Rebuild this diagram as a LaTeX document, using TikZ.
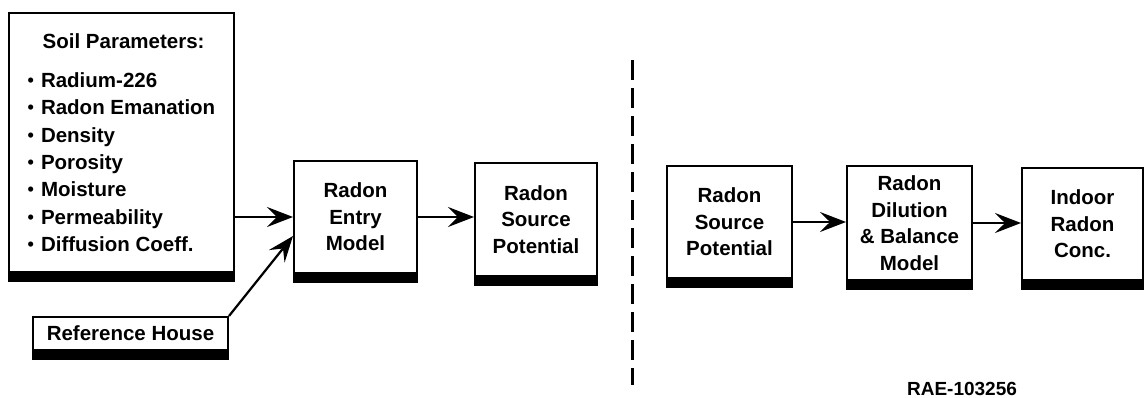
\documentclass[tikz,border=0pt]{standalone}
\usepackage{fontspec}
\setmainfont{Liberation Sans}
\usetikzlibrary{arrows.meta}
\newcommand\blt{\raisebox{1pt}{\fontsize{18}{18}\selectfont•}\hspace{7pt}}
\tikzset{
  blk/.style={draw,line width=2pt,inner sep=0pt,align=center,
    font=\fontsize{20.5}{26.5}\selectfont\bfseries},
  flow/.style={line width=2.2pt,-{Stealth[length=26pt,width=20pt,inset=10pt]}},
  divider/.style={line width=3pt,dash pattern=on 20pt off 8pt}
}
\begin{document}
\begin{tikzpicture}[x=1pt,y=-1pt]
    \useasboundingbox (0,0) rectangle (1145,398);
    \node[blk,minimum width=225pt,minimum height=259pt,align=left,
      font=\fontsize{20.5}{27.3}\selectfont\bfseries] (soil) at (121.5,142.5)
      {\hspace*{15pt}Soil Parameters:\\[12pt]
       \blt Radium-226\\ \blt Radon Emanation\\ \blt Density\\ \blt Porosity\\
       \blt Moisture\\ \blt Permeability\\ \blt Diffusion Coeff.};
    \node[blk,minimum width=195pt,minimum height=33pt] (house) at (130.5,333.5) {Reference House};
    \node[blk,minimum width=123pt,minimum height=112pt] (entry) at (355.5,217) {Radon\\Entry\\Model};
    \node[blk,minimum width=122pt,minimum height=113pt] (source) at (536,219.5) {Radon\\Source\\Potential};
    \node[blk,minimum width=125pt,minimum height=112pt] (sourceB) at (729.5,222) {Radon\\Source\\Potential};
    \node[blk,minimum width=125pt,minimum height=114pt] (dilution) at (909.5,223) {Radon\\Dilution\\\& Balance\\Model};
    \node[blk,minimum width=121pt,minimum height=112pt] (indoor) at (1082.5,224) {Indoor\\Radon\\Conc.};
    % shadow bars
    \foreach \n in {soil,house,entry,source,sourceB,dilution,indoor}
      \fill (\n.south west) rectangle ([yshift=-9pt]\n.south east);
    \draw[flow] (soil.east |- entry.west) -- (entry.west);
    \draw[flow] (house.north east) -- ([yshift=-19pt]entry.west);
    \draw[flow] (entry.east) -- (source.west |- entry.east);
    \draw[flow] (sourceB.east) -- (dilution.west |- sourceB.east);
    \draw[flow] (dilution.east) -- (indoor.west |- dilution.east);
    \draw[divider] (632,60) -- (632,385);
    \node[font=\fontsize{19}{22}\selectfont\bfseries] (tag) at (962,389) {RAE-103256};
\end{tikzpicture}
\end{document}
